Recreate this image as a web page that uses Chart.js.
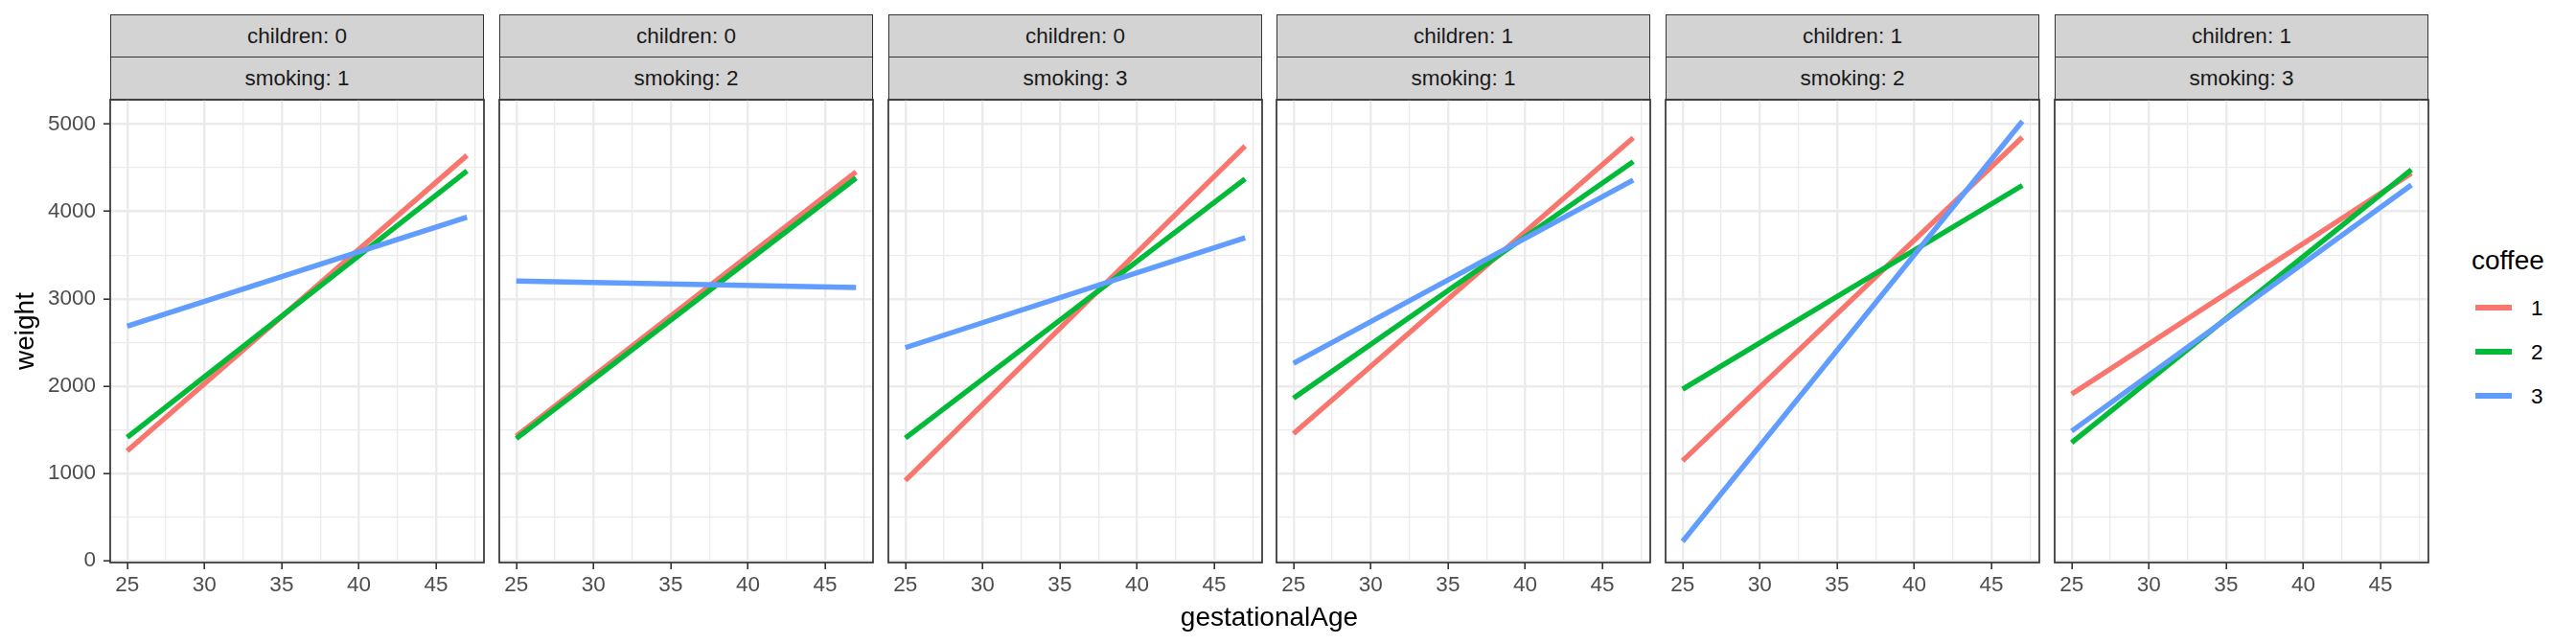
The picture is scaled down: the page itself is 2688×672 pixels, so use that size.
<!DOCTYPE html>
<html>
<head>
<meta charset="utf-8">
<script src="https://cdn.jsdelivr.net/npm/chart.js@4.4.1/dist/chart.umd.min.js"></script>
<style>
  body { margin: 0; background: #fff; width: 2688px; height: 672px; overflow: hidden; position: relative;
         font-family: "Liberation Sans", Arial, sans-serif; }
  canvas { position: absolute; }
  .strip { position: absolute; box-sizing: border-box; background: #D3D3D3; border: 1.6px solid #333;
           display: flex; align-items: center; justify-content: center; font-size: 22.5px; color: #1A1A1A; }
  .txt { position: absolute; white-space: nowrap; }
  .key { position: absolute; height: 5.4px; }
</style>
</head>
<body>
<script>
// dati: retta di regressione valutata a gestationalAge 25 e 47
const gestationalAge = [25, 47];
const childrenLevels = [0, 0, 0, 1, 1, 1];
const smokingLevels = [1, 2, 3, 1, 2, 3];
const coffeeLevels = ['1', '2', '3'];
const coffeeColors = ['#F8766D', '#00BA38', '#619CFF'];
const weightCoffee1 = [[1258, 4642], [1428, 4453], [919, 4750], [1456, 4844], [1145, 4849], [1909, 4439]];
const weightCoffee2 = [[1414, 4463], [1400, 4383], [1404, 4373], [1861, 4571], [1965, 4298], [1352, 4477]];
const weightCoffee3 = [[2686, 3935], [3204, 3129], [2441, 3699], [2262, 4359], [221, 5033], [1484, 4303]];
const xTicks = [25, 27.5, 30, 32.5, 35, 37.5, 40, 42.5, 45, 47.5];
const yTicks = [0, 500, 1000, 1500, 2000, 2500, 3000, 3500, 4000, 4500, 5000];

const xMin = 23.9, xMax = 48.1;
const yMin = -20, yMax = 5280;
const panelLeft0 = 115, panelStride = 405.8, panelW = 390;
const plotTop = 104, plotH = 483, xAxisH = 70;
const gridColor = '#EBEBEB';
const tickColor = '#4D4D4D';

Chart.defaults.font.family = '"Liberation Sans", Arial, sans-serif';

// bordo del pannello disegnato sopra le linee
const panelBorder = {
  id: 'panelBorder',
  afterDraw(chart) {
    const { ctx, chartArea: a } = chart;
    ctx.save();
    ctx.strokeStyle = '#333';
    ctx.lineWidth = 1.7;
    ctx.strokeRect(a.left, a.top, a.right - a.left, a.bottom - a.top);
    ctx.restore();
  }
};

function addText(text, left, top, size, color, extra) {
  const d = document.createElement('div');
  d.className = 'txt';
  d.textContent = text;
  d.style.left = left + 'px';
  d.style.top = top + 'px';
  d.style.fontSize = size + 'px';
  d.style.lineHeight = (size * 1.2) + 'px';
  d.style.color = color;
  if (extra) Object.assign(d.style, extra);
  document.body.appendChild(d);
  return d;
}

function addStrip(text, left, top, height) {
  const s = document.createElement('div');
  s.className = 'strip';
  s.textContent = text;
  s.style.left = left + 'px';
  s.style.top = top + 'px';
  s.style.width = panelW + 'px';
  s.style.height = height + 'px';
  document.body.appendChild(s);
}

function doPanel(i) {
  const first = i === 0;
  const left = Math.round(panelLeft0 + i * panelStride);
  const padL = first ? left : 4;

  addStrip(`children: ${childrenLevels[i]}`, left, 15, 45);
  addStrip(`smoking: ${smokingLevels[i]}`, left, 58.5, 46);

  const cv = document.createElement('canvas');
  cv.width = padL + panelW + 4;
  cv.height = 4 + plotH + xAxisH;
  cv.style.left = (left - padL) + 'px';
  cv.style.top = (plotTop - 4) + 'px';
  document.body.appendChild(cv);

  const series = [weightCoffee1, weightCoffee2, weightCoffee3];
  const datasets = series.map((s, k) => ({
    label: coffeeLevels[k],
    data: gestationalAge.map((g, j) => ({ x: g, y: s[i][j] })),
    borderColor: coffeeColors[k],
    borderWidth: 5.4,
    pointRadius: 0,
    tension: 0,
    fill: false,
    order: 2 - k // il blu sopra, come in ggplot
  }));

  const isMajorX = v => v % 5 === 0;
  const isMajorY = v => v % 1000 === 0;

  return new Chart(cv, {
    type: 'line',
    data: { datasets },
    plugins: [panelBorder],
    options: {
      responsive: false,
      animation: false,
      layout: { padding: { left: first ? 0 : 4, top: 4, right: 4, bottom: 0 } },
      plugins: { legend: { display: false }, tooltip: { enabled: false } },
      scales: {
        x: {
          type: 'linear', min: xMin, max: xMax,
          afterBuildTicks: s => { s.ticks = xTicks.map(v => ({ value: v })); },
          afterFit: s => { s.height = xAxisH; s.paddingLeft = 0; s.paddingRight = 0; },
          border: { display: false },
          grid: {
            color: gridColor,
            lineWidth: ctx => (ctx.tick && isMajorX(ctx.tick.value)) ? 2.4 : 1.3,
            tickLength: 7,
            tickWidth: 1.6,
            tickColor: ctx => (ctx.tick && isMajorX(ctx.tick.value)) ? '#333' : 'rgba(0,0,0,0)'
          },
          ticks: {
            autoSkip: false, maxRotation: 0, padding: 3, color: tickColor, font: { size: 22.5 },
            callback: v => isMajorX(v) ? String(v) : ''
          }
        },
        y: {
          type: 'linear', min: yMin, max: yMax,
          afterBuildTicks: s => { s.ticks = yTicks.map(v => ({ value: v })); },
          afterFit: s => { s.width = first ? padL : 0; s.paddingTop = 0; s.paddingBottom = 0; },
          border: { display: false },
          grid: {
            color: gridColor,
            lineWidth: ctx => (ctx.tick && isMajorY(ctx.tick.value)) ? 2.4 : 1.3,
            drawTicks: first,
            tickLength: 7,
            tickWidth: 1.6,
            tickColor: ctx => (ctx.tick && isMajorY(ctx.tick.value)) ? '#333' : 'rgba(0,0,0,0)'
          },
          ticks: {
            display: first, autoSkip: false, padding: 8, color: tickColor, font: { size: 22.5 },
            callback: v => isMajorY(v) ? String(v) : ''
          },
          title: {
            display: first, text: 'weight', color: '#000',
            font: { size: 28 }, padding: { top: 10, bottom: 0 }
          }
        }
      }
    }
  });
}

for (let i = 0; i < childrenLevels.length; i++) doPanel(i);

// titolo asse x centrato sui pannelli
const xt = addText('gestationalAge', 0, 644 - 16.8, 28, '#000');
const lastRight = Math.round(panelLeft0 + 5 * panelStride) + panelW;
xt.style.left = ((panelLeft0 + lastRight) / 2) + 'px';
xt.style.transform = 'translateX(-50%)';

// legenda
addText('coffee', 2579, 272 - 16.8, 28, '#000');
const keyY = [321, 367, 413];
coffeeLevels.forEach((lev, k) => {
  const key = document.createElement('div');
  key.className = 'key';
  key.style.left = '2583px';
  key.style.width = '38px';
  key.style.top = (keyY[k] - 2.7) + 'px';
  key.style.background = coffeeColors[k];
  document.body.appendChild(key);
  addText(lev, 2641, keyY[k] - 13.5, 22.5, '#000');
});
</script>
</body>
</html>
